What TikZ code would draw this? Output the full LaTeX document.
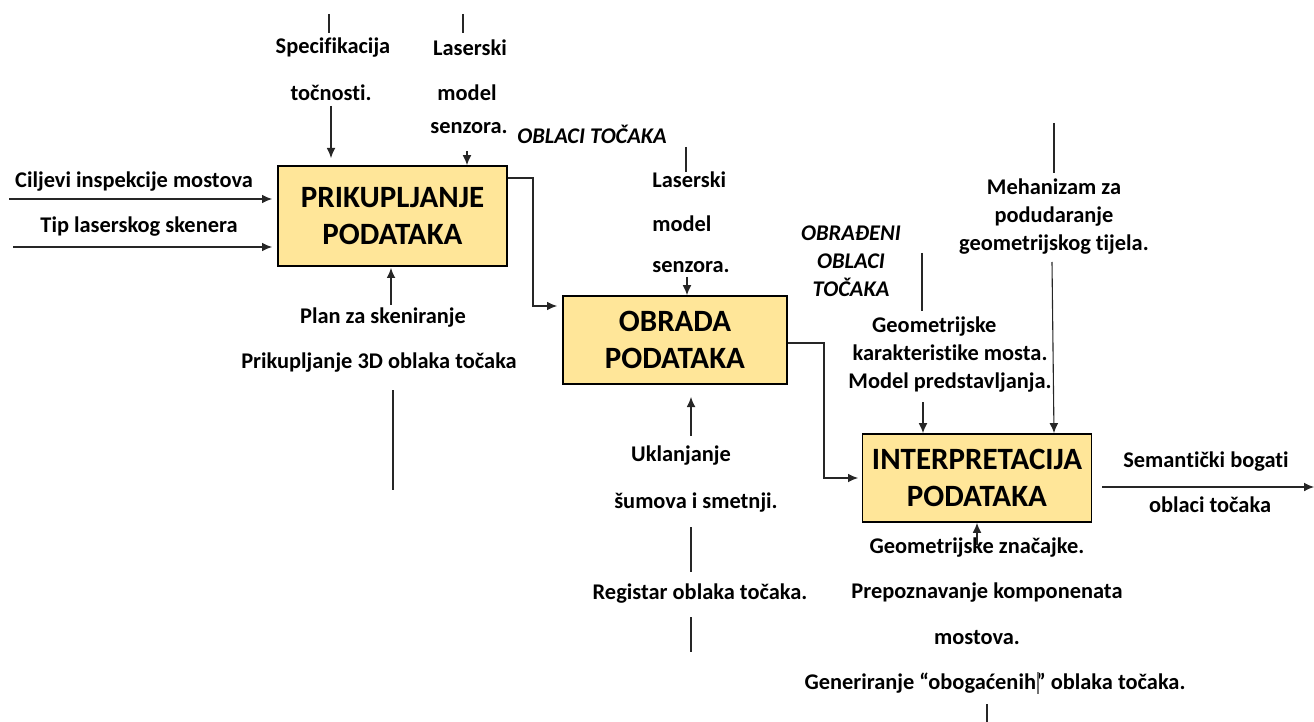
\documentclass[tikz,border=0pt]{standalone}
\usepackage{fontspec}
\setmainfont{Carlito}[Ligatures=NoCommon]
\usetikzlibrary{arrows.meta}
\definecolor{zuta}{HTML}{FFE699}

\begin{document}
\begin{tikzpicture}[x=0.5pt,y=-0.5pt,>={Latex[length=5pt,width=4.4pt]},
	proces/.style={draw,line width=0.9pt,fill=zuta,align=center,
		font=\fontsize{15.5}{18.5}\selectfont\bfseries},
	tekst/.style={inner sep=0pt,font=\fontsize{11.2}{14}\selectfont\bfseries},
	kurziv/.style={tekst,font=\fontsize{11.2}{14}\selectfont\bfseries\itshape},
	vod/.style={draw=black!85,line width=0.55pt}]
			\useasboundingbox (0,0) rectangle (1314,722);

			% procesi
			\node[proces,minimum width=114.5pt,minimum height=50pt] (prik) at (392.5,216) {PRIKUPLJANJE\\PODATAKA};
			\node[proces,minimum width=112pt,minimum height=44pt] (obr) at (675,340) {OBRADA\\PODATAKA};
			\node[proces,minimum width=114.5pt,minimum height=44pt] (interp) at (977,478) {INTERPRETACIJA\\PODATAKA};

			% ulazi
			\node[tekst] (cilj) at (134,182) {Ciljevi inspekcije mostova};
			\node[tekst] (tip) at (139,227) {Tip laserskog skenera};
			\coordinate (cilj0) at (9,199);
			\coordinate (tip0) at (13,247);
			\draw[vod,->] (cilj0) -- (272,199);
			\draw[vod,->] (tip0) -- (272,247);

			% kontrole - prikupljanje
			\node[tekst] (spec) at (333,48) {Specifikacija};
			\node[tekst] (tocn) at (331,93) {točnosti.};
			\draw[vod] (329,14) -- (329,33);
			\draw[vod,->] (331,106) -- (331,158);

			\node[tekst] (lasA) at (470,48) {Laserski};
			\node[tekst] (modA) at (467,93) {model};
			\node[tekst] (senA) at (469,128) {senzora.};
			\draw[vod] (463,14) -- (463,33);
			\draw[vod,->] (467,151) -- (prik.north -| 467,0);

			\node[kurziv] (oblaci) at (592,134) {OBLACI TOČAKA};

			% mehanizmi - prikupljanje
			\node[tekst] (plan) at (383,318) {Plan za skeniranje};
			\node[tekst] (prik3d) at (379,363) {Prikupljanje 3D oblaka točaka};
			\draw[vod,->] (391,305) -- (391,268);
			\draw[vod] (393,390) -- (393,490);

			% prikupljanje -> obrada
			\draw[vod,->] (prik.east |- 0,178) -- (533,178) -- (533,306) -- (557,306);

			% obrada
			\node[tekst,anchor=west] (lasB) at (652,180) {Laserski};
			\node[tekst,anchor=west] (modB) at (652,224) {model};
			\node[tekst,anchor=west] (senB) at (652,267) {senzora.};
			\draw[vod] (686,147) -- (686,172);
			\draw[vod,->] (687,277) -- (obr.north -| 687,0);

			\node[kurziv,align=center] (obrOb) at (851,261) {OBRAĐENI\\OBLACI\\TOČAKA};

			\node[tekst] (ukl) at (681,456) {Uklanjanje};
			\node[tekst] (sum) at (696,503) {šumova i smetnji.};
			\node[tekst] (reg) at (700,594) {Registar oblaka točaka.};
			\draw[vod,->] (691,436) -- (691,397);
			\draw[vod] (691,527) -- (691,572);
			\draw[vod] (691,617) -- (691,652);

			% obrada -> interpretacija
			\draw[vod,->] (obr.east |- 0,343) -- (824,343) -- (824,478) -- (858,478);

			% interpretacija
			\node[tekst,align=center] (geo) at (950,355) {\hspace*{-1.4em}Geometrijske\\karakteristike mosta.\\Model predstavljanja.};
			\draw[vod] (922,253) -- (922,311);
			\draw[vod,->] (923,402) -- (interp.north -| 923,0);

			\node[tekst,align=center] (meh) at (1054,217) {Mehanizam za\\podudaranje\\geometrijskog tijela.};
			\draw[vod] (1054,123) -- (1054,173);
			\draw[vod,->] (1052,262) -- (interp.north -| 1054,0);

			\node[tekst] (sem) at (1206,462) {Semantički bogati};
			\node[tekst] (semOb) at (1210,505) {oblaci točaka};
			\coordinate (izlaz) at (1314,487);
			\draw[vod,->] (1102,487) -- (izlaz);

			\node[tekst] (gz) at (977,548) {Geometrijske značajke.};
			\node[tekst] (prep) at (987,593) {Prepoznavanje komponenata};
			\node[tekst] (most) at (977,638) {mostova.};
			\node[tekst] (gen) at (995,683) {Generiranje “obogaćenih” oblaka točaka.};
			\draw[vod,->] (977,545) -- (interp.south);
			\draw[vod] (987,704) -- (987,722);
			\draw[vod,draw=black!55] (1038,672) -- (1038,694);
		\end{tikzpicture}
\end{document}
